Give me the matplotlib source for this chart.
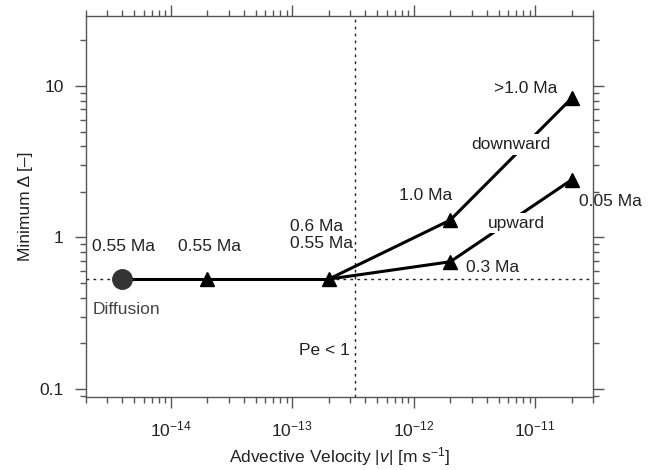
import matplotlib
matplotlib.use("Agg")
import matplotlib.pyplot as plt
from matplotlib.ticker import LogLocator, NullFormatter, FixedLocator, FixedFormatter

plt.rcParams['font.family'] = ['Liberation Sans', 'DejaVu Sans']
plt.rcParams['mathtext.fontset'] = 'custom'
plt.rcParams['mathtext.rm'] = 'Liberation Sans'
plt.rcParams['mathtext.it'] = 'Liberation Sans:italic'

# Data
diff_x = [4e-15]
diff_y = [0.53]
base_x = [2e-14, 2e-13]
base_y = [0.53, 0.53]
down_x = [2e-13, 2e-12, 2e-11]
down_y = [0.53, 1.3, 8.3]
up_x = [2e-13, 2e-12, 2e-11]
up_y = [0.53, 0.69, 2.4]
pe_x = 3.3e-13
ref_y = 0.53

fig = plt.figure(figsize=(6.56, 4.70), dpi=100)
ax = fig.add_axes([0.131, 0.155, 0.773, 0.811])
ax.set_xscale('log')
ax.set_yscale('log')
ax.set_xlim(2e-15, 3e-11)
ax.set_ylim(0.088, 29)

frame_c = '#555555'
for s in ax.spines.values():
    s.set_color(frame_c)
    s.set_linewidth(1.0)

ax.axhline(ref_y, color='#222222', ls=(0, (2, 3)), lw=1.0, zorder=1)
ax.axvline(pe_x, color='#222222', ls=(0, (2, 3)), lw=1.0, zorder=1)

ax.plot([diff_x[0], base_x[0], base_x[1]], [diff_y[0], base_y[0], base_y[1]],
        color='black', lw=2.2, zorder=2)
ax.plot(down_x, down_y, color='black', lw=2.2, zorder=2)
ax.plot(up_x, up_y, color='black', lw=2.2, zorder=2)
ax.plot(base_x + down_x[1:] + up_x[1:], base_y + down_y[1:] + up_y[1:],
        ls='none', marker='^', ms=10.5, color='black', zorder=3)
ax.plot(diff_x, diff_y, ls='none', marker='o', ms=14, color='#333333', zorder=4)

tc = '#222222'
fs = 12.5
box = dict(facecolor='white', edgecolor='none', pad=2)
ax.text(4.1e-15, 0.87, '0.55 Ma', ha='center', va='center', fontsize=fs, color=tc)
ax.text(2.1e-14, 0.87, '0.55 Ma', ha='center', va='center', fontsize=fs, color=tc)
ax.text(9.6e-14, 1.18, '0.6 Ma', ha='left', va='center', fontsize=fs, color=tc)
ax.text(9.6e-14, 0.91, '0.55 Ma', ha='left', va='center', fontsize=fs, color=tc)
ax.text(2.25e-15, 0.336, 'Diffusion', ha='left', va='center', fontsize=fs, color='#444444')
ax.text(1.25e-12, 1.89, '1.0 Ma', ha='center', va='center', fontsize=fs, color=tc)
ax.text(8.4e-12, 9.6, '>1.0 Ma', ha='center', va='center', fontsize=fs, color=tc)
ax.text(6.3e-12, 4.1, 'downward', ha='center', va='center', fontsize=fs, color=tc,
        bbox=box, zorder=5)
ax.text(7.0e-12, 1.24, 'upward', ha='center', va='center', fontsize=fs, color=tc,
        bbox=box, zorder=5)
ax.text(2.3e-11, 1.72, '0.05 Ma', ha='left', va='center', fontsize=fs, color=tc)
ax.text(2.7e-12, 0.63, '0.3 Ma', ha='left', va='center', fontsize=fs, color=tc)
ax.text(3.0e-13, 0.178, 'Pe < 1', ha='right', va='center', fontsize=fs, color=tc)

# Ticks
ax.xaxis.set_major_locator(FixedLocator([1e-14, 1e-13, 1e-12, 1e-11]))
ax.xaxis.set_major_formatter(FixedFormatter([r'10$^{-14}$', r'10$^{-13}$', r'10$^{-12}$', r'10$^{-11}$']))
ax.xaxis.set_minor_locator(LogLocator(base=10, subs=range(2, 10), numticks=20))
ax.xaxis.set_minor_formatter(NullFormatter())
ax.yaxis.set_major_locator(FixedLocator([0.1, 1, 10]))
ax.yaxis.set_major_formatter(FixedFormatter(['0.1', '1', '10']))
ax.yaxis.set_minor_locator(LogLocator(base=10, subs=range(2, 10), numticks=20))
ax.yaxis.set_minor_formatter(NullFormatter())

ax.tick_params(which='both', direction='out', top=True, right=True, color=frame_c,
               labelsize=12.5, labelcolor=tc)
ax.tick_params(which='major', length=8, width=1.0, pad=8)
ax.tick_params(which='minor', length=4, width=1.0)

ax.set_xlabel(r'Advective Velocity |$\it{v}$| [m s$^{-1}$]', fontsize=12.5, color=tc, labelpad=4)
ax.set_ylabel('Minimum Δ [–]', fontsize=12.5, color=tc, labelpad=5)

fig.savefig('out.png', dpi=100)
